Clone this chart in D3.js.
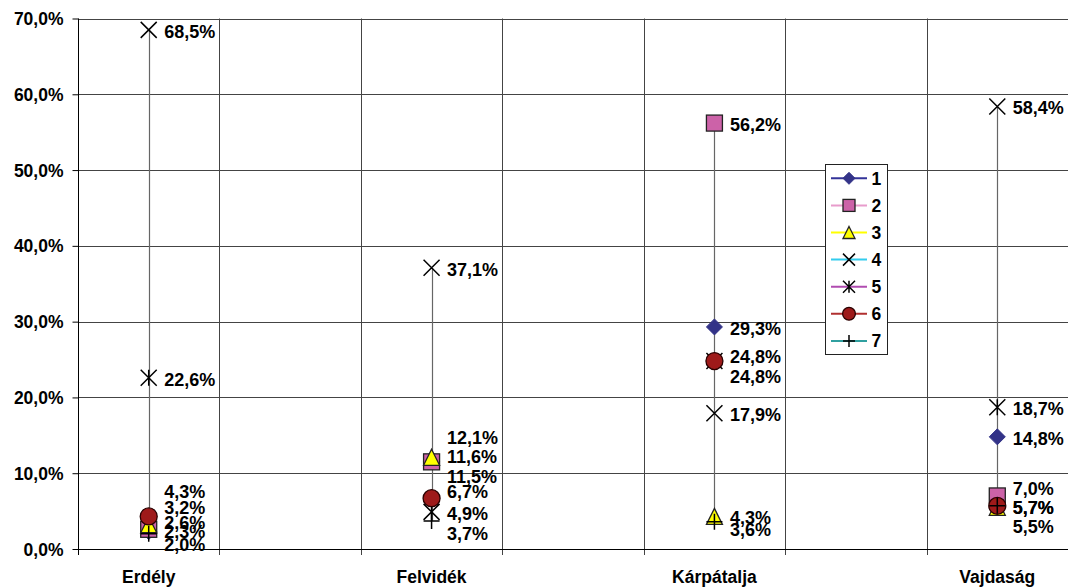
<!DOCTYPE html>
<html>
<head>
<meta charset="utf-8">
<script src="https://cdn.jsdelivr.net/npm/d3@7"></script>
<style>
  html, body { margin: 0; padding: 0; background: #fff; }
  svg { display: block; }
  text { font-family: "Liberation Sans", Arial, sans-serif; font-weight: bold; fill: #000; }
</style>
</head>
<body>
<svg id="chart" width="1068" height="587"></svg>
<script>
// ---------- data ----------
const regions = ["Erdély", "Felvidék", "Kárpátalja", "Vajdaság"];
// category slots on the axis (empty slots between regions)
const slots = ["Erdély", "", "Felvidék", " ", "Kárpátalja", "  ", "Vajdaság"];
const seriesNames = ["1", "2", "3", "4", "5", "6", "7"];
const s1 = [2.3, 11.6, 29.3, 14.8];
const s2 = [2.6, 11.5, 56.2, 7.0];
const s3 = [3.2, 12.1, 4.3, 5.5];
const s4 = [68.5, 37.1, 17.9, 58.4];
const s5 = [22.6, 4.9, 24.8, 18.7];
const s6 = [4.3, 6.7, 24.8, 5.7];
const s7 = [2.0, 3.7, 3.6, 5.7];
const seriesValues = [s1, s2, s3, s4, s5, s6, s7];
const yTicks = [0, 10, 20, 30, 40, 50, 60, 70];

// ---------- styles / layout ----------
const markerTypes = ["diamond", "square", "triangle", "x", "star", "circle", "plus"];
const lineColors = ["#333399", "#e89ccc", "#ffff00", "#33ccee", "#b04cb0", "#b03030", "#30a0a0"];
const fillColors = ["#333388", "#cc62a8", "#ffff00", "none", "none", "#9e1a1a", "none"];
const strokeColors = ["#333388", "#222", "#222", "#000", "#000", "#2a0000", "#000"];
// vertical nudges (px) for crowded data labels: key = regionIndex-seriesIndex
const labelDy = {
  "0-5": -24.7, "0-2": -17.7, "0-1": -6.6, "0-0": 0, "0-6": 10.2,
  "1-2": -20, "1-0": -4.4, "1-1": 14.2, "1-5": -6.5, "1-4": 2.1, "1-6": 12.3,
  "2-4": -5, "2-5": 15.7, "2-6": 8.3,
  "3-1": -7.6, "3-2": 19.4
};
const defaultDy = 1.5;
const labelDx = 15.5;

const margin = { left: 78, right: 0, top: 18.5, bottom: 38 };
const W = 1068, H = 587;
const svg = d3.select("#chart");

const x = d3.scaleBand().domain(slots).range([margin.left, W - margin.right]).padding(0);
const y = d3.scaleLinear().domain([0, 70]).range([H - margin.bottom, margin.top]);
const xc = name => x(name) + x.bandwidth() / 2;
const fmt = v => d3.format(".1f")(v).replace(".", ",") + "%";

const gridColor = "#444";

// horizontal gridlines
svg.append("g").selectAll("line").data(yTicks.filter(t => t > 0)).join("line")
  .attr("x1", margin.left).attr("x2", W - margin.right)
  .attr("y1", d => Math.round(y(d)) + 0.5).attr("y2", d => Math.round(y(d)) + 0.5)
  .attr("stroke", gridColor).attr("stroke-width", 1);

// vertical gridlines at category boundaries
const boundaries = slots.slice(1).map(s => x(s)).concat([x.range()[1]]);
svg.append("g").selectAll("line").data(boundaries).join("line")
  .attr("x1", d => Math.round(d) + 0.5).attr("x2", d => Math.round(d) + 0.5)
  .attr("y1", y(70)).attr("y2", y(0) + 6)
  .attr("stroke", gridColor).attr("stroke-width", 1);

// y axis
const yAxis = d3.axisLeft(y).tickValues(yTicks).tickFormat(d => d3.format(".1f")(d).replace(".", ",") + "%")
  .tickSize(6).tickPadding(9);
const gy = svg.append("g").attr("transform", `translate(${margin.left + 0.5},0)`).call(yAxis);
gy.select(".domain").remove();
gy.selectAll(".tick line").attr("stroke", "#000");
gy.selectAll("text").style("font-size", "17.5px").attr("dy", "0.35em");
svg.append("line").attr("x1", margin.left + 0.5).attr("x2", margin.left + 0.5)
  .attr("y1", y(70)).attr("y2", y(0) + 6).attr("stroke", "#000");

// x axis line
svg.append("line").attr("x1", margin.left).attr("x2", W)
  .attr("y1", Math.round(y(0)) + 0.5).attr("y2", Math.round(y(0)) + 0.5).attr("stroke", "#000");

// category labels
svg.append("g").selectAll("text").data(regions).join("text")
  .attr("x", d => xc(d)).attr("y", 582.5)
  .attr("text-anchor", "middle").style("font-size", "17.5px").text(d => d);

// high-low lines
svg.append("g").selectAll("line").data(regions).join("line")
  .attr("x1", d => Math.round(xc(d)) + 0.5).attr("x2", d => Math.round(xc(d)) + 0.5)
  .attr("y1", (d, i) => y(d3.max(seriesValues, s => s[i])))
  .attr("y2", (d, i) => y(d3.min(seriesValues, s => s[i])))
  .attr("stroke", "#666").attr("stroke-width", 1.2);

// marker drawing
function drawMarker(g, type, k, fill, stroke) {
  const h = 8 * k;
  if (type === "diamond") {
    g.append("path").attr("d", `M0,${-h}L${h},0L0,${h}L${-h},0Z`).attr("fill", fill).attr("stroke", stroke);
  } else if (type === "square") {
    g.append("rect").attr("x", -h).attr("y", -h).attr("width", 2 * h).attr("height", 2 * h)
      .attr("fill", fill).attr("stroke", stroke).attr("stroke-width", 1.3);
  } else if (type === "triangle") {
    g.append("path").attr("d", `M0,${-h}L${h},${h}L${-h},${h}Z`).attr("fill", fill).attr("stroke", stroke).attr("stroke-width", 1.3);
  } else if (type === "circle") {
    g.append("circle").attr("r", h + 0.5 * k).attr("fill", fill).attr("stroke", stroke).attr("stroke-width", 1.3);
  } else if (type === "x") {
    g.append("path").attr("d", `M${-h},${-h}L${h},${h}M${-h},${h}L${h},${-h}`).attr("stroke", stroke).attr("stroke-width", 1.5).attr("fill", "none");
  } else if (type === "star") {
    g.append("path").attr("d", `M${-h},${-h}L${h},${h}M${-h},${h}L${h},${-h}M0,${-h}L0,${h}`).attr("stroke", stroke).attr("stroke-width", 1.5).attr("fill", "none");
  } else if (type === "plus") {
    g.append("path").attr("d", `M0,${-h}L0,${h}M${-h},0L${h},0`).attr("stroke", stroke).attr("stroke-width", 1.5).attr("fill", "none");
  }
}

// markers, series order 1..7
const gm = svg.append("g");
seriesValues.forEach((vals, si) => {
  vals.forEach((v, ri) => {
    const g = gm.append("g").attr("transform", `translate(${xc(regions[ri])},${y(v)})`);
    drawMarker(g, markerTypes[si], 1, fillColors[si], strokeColors[si]);
  });
});

// data labels
const gl = svg.append("g");
seriesValues.forEach((vals, si) => {
  vals.forEach((v, ri) => {
    const key = `${ri}-${si}`;
    const dy = key in labelDy ? labelDy[key] : defaultDy;
    gl.append("text")
      .attr("x", xc(regions[ri]) + labelDx)
      .attr("y", y(v) + dy)
      .attr("dy", "0.36em")
      .style("font-size", "18px")
      .text(fmt(v));
  });
});

// legend
const lg = svg.append("g");
const legX = 825.5, legY = 164.5, legW = 62, legH = 190;
lg.append("rect").attr("x", legX).attr("y", legY).attr("width", legW).attr("height", legH)
  .attr("fill", "#fff").attr("stroke", "#222").attr("stroke-width", 1);
seriesNames.forEach((name, i) => {
  const cy = 178.3 + i * 27.1;
  lg.append("line").attr("x1", 831).attr("x2", 867).attr("y1", cy).attr("y2", cy)
    .attr("stroke", lineColors[i]).attr("stroke-width", 2);
  const g = lg.append("g").attr("transform", `translate(849,${cy})`);
  drawMarker(g, markerTypes[i], 0.75, fillColors[i], strokeColors[i]);
  lg.append("text").attr("x", 871.5).attr("y", cy).attr("dy", "0.36em")
    .style("font-size", "17.5px").text(name);
});
</script>
</body>
</html>
